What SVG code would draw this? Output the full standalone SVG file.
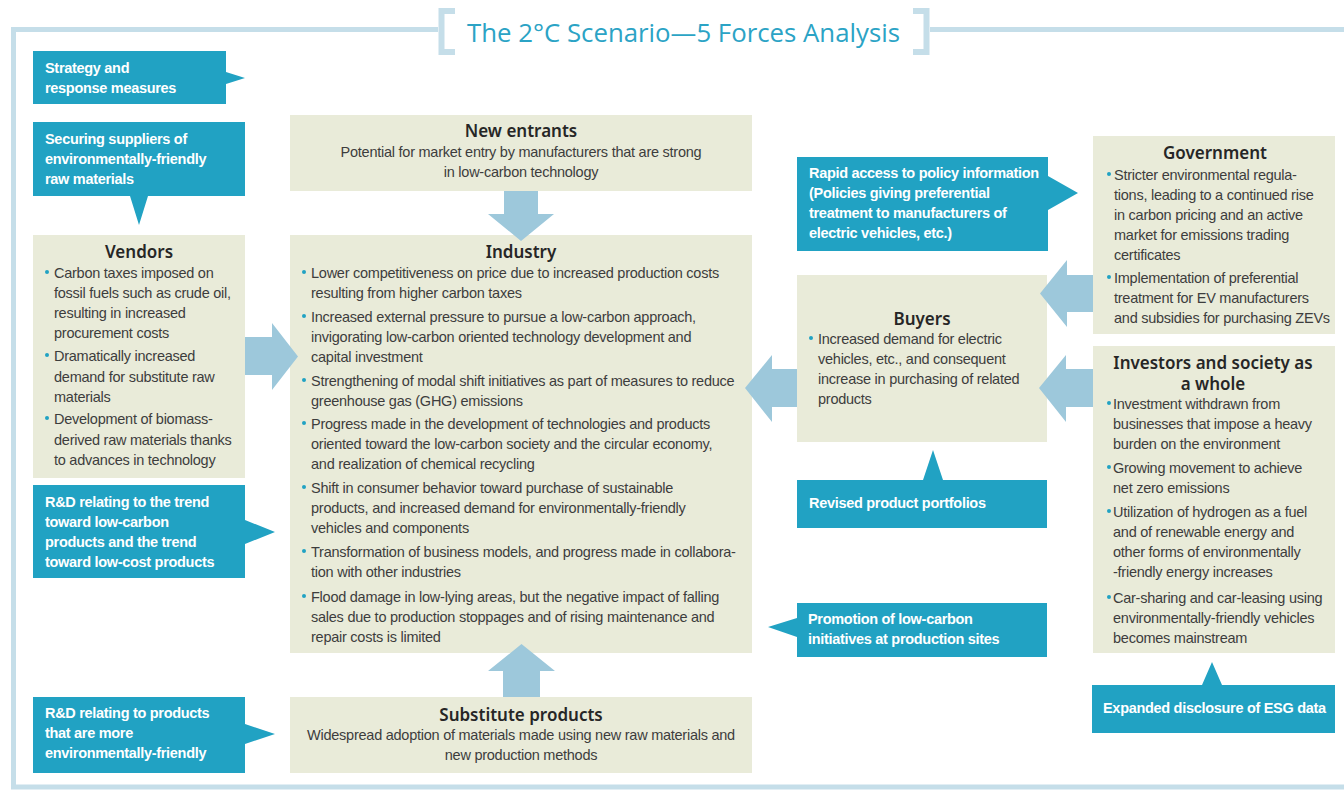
<svg xmlns="http://www.w3.org/2000/svg" width="1344" height="791" viewBox="0 0 1344 791">
<defs>
<style>
.frame{fill:none;stroke:#c5dee9;stroke-width:5}
.brk{fill:none;stroke:#c5dee9;stroke-width:6}
.box{fill:#e9ebd9}
.call{fill:#21a2c3}
.arrow{fill:#9dc8db}
.title{font-family:"Open Sans","Noto Sans",sans-serif;font-size:26px;fill:#2ba3c5}
.head{font-family:"Noto Sans","Open Sans",sans-serif;font-size:17px;font-weight:600;fill:#262626;text-anchor:middle}
.body{font-family:"Liberation Sans",Arial,sans-serif;font-size:14.5px;letter-spacing:-0.25px;fill:#3d3d3d}
.mid{text-anchor:middle}
.ctext{font-family:"Liberation Sans",Arial,sans-serif;font-size:14.5px;font-weight:bold;letter-spacing:-0.3px;fill:#ffffff}
.dot{fill:#21a2c3}
</style>
</defs>
<rect width="1344" height="791" fill="#ffffff"/>
<g id="frame">
<path class="frame" d="M438,29.5 H13.5 V787 H1344"/>
<path class="frame" d="M930,29.5 H1344"/>
<path class="brk" d="M455,11 H441.5 V52 H455"/>
<path class="brk" d="M913,11 H926.5 V52 H913"/>
<text class="title" x="467" y="42" textLength="433" lengthAdjust="spacingAndGlyphs">The 2°C Scenario—5 Forces Analysis</text>
</g>
<g id="new-entrants">
<rect class="box" x="290" y="115" width="462" height="76"/>
<text class="head" x="521" y="137">New entrants</text>
<text class="body mid" x="521" y="157">Potential for market entry by manufacturers that are strong</text>
<text class="body mid" x="521" y="177">in low-carbon technology</text>
</g>
<g id="industry">
<rect class="box" x="290" y="235" width="462" height="418"/>
<text class="head" x="521" y="258">Industry</text>
<g class="dot"><circle cx="304" cy="272" r="2"/><circle cx="304" cy="316" r="2"/><circle cx="304" cy="380" r="2"/><circle cx="304" cy="423" r="2"/><circle cx="304" cy="487" r="2"/><circle cx="304" cy="551" r="2"/><circle cx="304" cy="596" r="2"/></g>
<text class="body" x="311" y="278">Lower competitiveness on price due to increased production costs</text>
<text class="body" x="311" y="298">resulting from higher carbon taxes</text>
<text class="body" x="311" y="322">Increased external pressure to pursue a low-carbon approach,</text>
<text class="body" x="311" y="342">invigorating low-carbon oriented technology development and</text>
<text class="body" x="311" y="362">capital investment</text>
<text class="body" x="311" y="386">Strengthening of modal shift initiatives as part of measures to reduce</text>
<text class="body" x="311" y="406">greenhouse gas (GHG) emissions</text>
<text class="body" x="311" y="429">Progress made in the development of technologies and products</text>
<text class="body" x="311" y="449">oriented toward the low-carbon society and the circular economy,</text>
<text class="body" x="311" y="469">and realization of chemical recycling</text>
<text class="body" x="311" y="493">Shift in consumer behavior toward purchase of sustainable</text>
<text class="body" x="311" y="513">products, and increased demand for environmentally-friendly</text>
<text class="body" x="311" y="533">vehicles and components</text>
<text class="body" x="311" y="557">Transformation of business models, and progress made in collabora-</text>
<text class="body" x="311" y="577">tion with other industries</text>
<text class="body" x="311" y="602">Flood damage in low-lying areas, but the negative impact of falling</text>
<text class="body" x="311" y="622">sales due to production stoppages and of rising maintenance and</text>
<text class="body" x="311" y="642">repair costs is limited</text>
</g>
<g id="vendors">
<rect class="box" x="33" y="235" width="212" height="243"/>
<text class="head" x="139" y="258">Vendors</text>
<g class="dot"><circle cx="47" cy="272" r="2"/><circle cx="47" cy="355" r="2"/><circle cx="47" cy="418" r="2"/></g>
<text class="body" x="54" y="278">Carbon taxes imposed on</text>
<text class="body" x="54" y="298">fossil fuels such as crude oil,</text>
<text class="body" x="54" y="318">resulting in increased</text>
<text class="body" x="54" y="338">procurement costs</text>
<text class="body" x="54" y="361">Dramatically increased</text>
<text class="body" x="54" y="382">demand for substitute raw</text>
<text class="body" x="54" y="402">materials</text>
<text class="body" x="54" y="424">Development of biomass-</text>
<text class="body" x="54" y="445">derived raw materials thanks</text>
<text class="body" x="54" y="465">to advances in technology</text>
</g>
<g id="substitute-products">
<rect class="box" x="290" y="697" width="462" height="76"/>
<text class="head" x="521" y="721">Substitute products</text>
<text class="body mid" x="521" y="740">Widespread adoption of materials made using new raw materials and</text>
<text class="body mid" x="521" y="760">new production methods</text>
</g>
<g id="buyers">
<rect class="box" x="797" y="275" width="250" height="167"/>
<text class="head" x="922" y="325">Buyers</text>
<circle class="dot" cx="811" cy="338" r="2"/>
<text class="body" x="818" y="344">Increased demand for electric</text>
<text class="body" x="818" y="364">vehicles, etc., and consequent</text>
<text class="body" x="818" y="384">increase in purchasing of related</text>
<text class="body" x="818" y="404">products</text>
</g>
<g id="government">
<rect class="box" x="1093" y="136" width="242" height="198"/>
<text class="head" x="1215" y="159">Government</text>
<g class="dot"><circle cx="1109" cy="174" r="2"/><circle cx="1109" cy="277" r="2"/></g>
<text class="body" x="1114" y="180">Stricter environmental regula-</text>
<text class="body" x="1114" y="200">tions, leading to a continued rise</text>
<text class="body" x="1114" y="220">in carbon pricing and an active</text>
<text class="body" x="1114" y="240">market for emissions trading</text>
<text class="body" x="1114" y="260">certificates</text>
<text class="body" x="1114" y="283">Implementation of preferential</text>
<text class="body" x="1114" y="303">treatment for EV manufacturers</text>
<text class="body" x="1114" y="323">and subsidies for purchasing ZEVs</text>
</g>
<g id="investors">
<rect class="box" x="1093" y="346" width="242" height="307"/>
<text class="head" x="1213" y="369">Investors and society as</text>
<text class="head" x="1213" y="390">a whole</text>
<g class="dot"><circle cx="1109" cy="403" r="2"/><circle cx="1109" cy="467" r="2"/><circle cx="1109" cy="511" r="2"/><circle cx="1109" cy="597" r="2"/></g>
<text class="body" x="1113" y="409">Investment withdrawn from</text>
<text class="body" x="1113" y="429">businesses that impose a heavy</text>
<text class="body" x="1113" y="449">burden on the environment</text>
<text class="body" x="1113" y="473">Growing movement to achieve</text>
<text class="body" x="1113" y="493">net zero emissions</text>
<text class="body" x="1113" y="517">Utilization of hydrogen as a fuel</text>
<text class="body" x="1113" y="537">and of renewable energy and</text>
<text class="body" x="1113" y="557">other forms of environmentally</text>
<text class="body" x="1113" y="577">-friendly energy increases</text>
<text class="body" x="1113" y="603">Car-sharing and car-leasing using</text>
<text class="body" x="1113" y="623">environmentally-friendly vehicles</text>
<text class="body" x="1113" y="643">becomes mainstream</text>
</g>
<g id="callout-strategy">
<path class="call" d="M33,51 H226 V72 L245,78 L226,84 V104 H33 Z"/>
<text class="ctext" x="45" y="73">Strategy and</text>
<text class="ctext" x="45" y="93">response measures</text>
</g>
<g id="callout-suppliers">
<path class="call" d="M33,122 H245 V196 H148 L139,225 L130,196 H33 Z"/>
<text class="ctext" x="45" y="144">Securing suppliers of</text>
<text class="ctext" x="45" y="164">environmentally-friendly</text>
<text class="ctext" x="45" y="184">raw materials</text>
</g>
<g id="callout-rd-trend">
<path class="call" d="M33,485 H245 V520 L275,532 L245,544 V578 H33 Z"/>
<text class="ctext" x="45" y="507">R&amp;D relating to the trend</text>
<text class="ctext" x="45" y="527">toward low-carbon</text>
<text class="ctext" x="45" y="547">products and the trend</text>
<text class="ctext" x="45" y="567">toward low-cost products</text>
</g>
<g id="callout-rd-products">
<path class="call" d="M33,697 H245 V724 L275,734 L245,744 V773 H33 Z"/>
<text class="ctext" x="45" y="718">R&amp;D relating to products</text>
<text class="ctext" x="45" y="738">that are more</text>
<text class="ctext" x="45" y="758">environmentally-friendly</text>
</g>
<g id="callout-policy">
<path class="call" d="M797,157 H1048 V176 L1078,193 L1048,210 V251 H797 Z"/>
<text class="ctext" x="809" y="178">Rapid access to policy information</text>
<text class="ctext" x="809" y="198">(Policies giving preferential</text>
<text class="ctext" x="809" y="218">treatment to manufacturers of</text>
<text class="ctext" x="809" y="238">electric vehicles, etc.)</text>
</g>
<g id="callout-portfolios">
<path class="call" d="M797,480 H923 L933,450 L943,480 H1047 V528 H797 Z"/>
<text class="ctext" x="809" y="508">Revised product portfolios</text>
</g>
<g id="callout-promotion">
<path class="call" d="M797,603 H1047 V657 H797 V637 L768,627 L797,618 Z"/>
<text class="ctext" x="808" y="624">Promotion of low-carbon</text>
<text class="ctext" x="808" y="644">initiatives at production sites</text>
</g>
<g id="callout-esg">
<path class="call" d="M1092,685 H1202 L1212,662 L1222,685 H1335 V733 H1092 Z"/>
<text class="ctext" x="1103" y="713">Expanded disclosure of ESG data</text>
</g>
<g id="connectors">
<polygon class="arrow" points="504,191 538,191 538,214 554,214 521,241 488,214 504,214"/>
<polygon class="arrow" points="503,697 540,697 540,671 555,671 521.5,644 488,671 503,671"/>
<polygon class="arrow" points="245,337 272,337 272,323 298,356.5 272,390 272,375 245,375"/>
<polygon class="arrow" points="797,369 772,369 772,355 745,388 772,422 772,407 797,407"/>
<polygon class="arrow" points="1093,275 1067,275 1067,260 1040,293.5 1067,327 1067,312 1093,312"/>
<polygon class="arrow" points="1093,369 1066,369 1066,355 1039,388 1066,422 1066,407 1093,407"/>
</g>
</svg>
